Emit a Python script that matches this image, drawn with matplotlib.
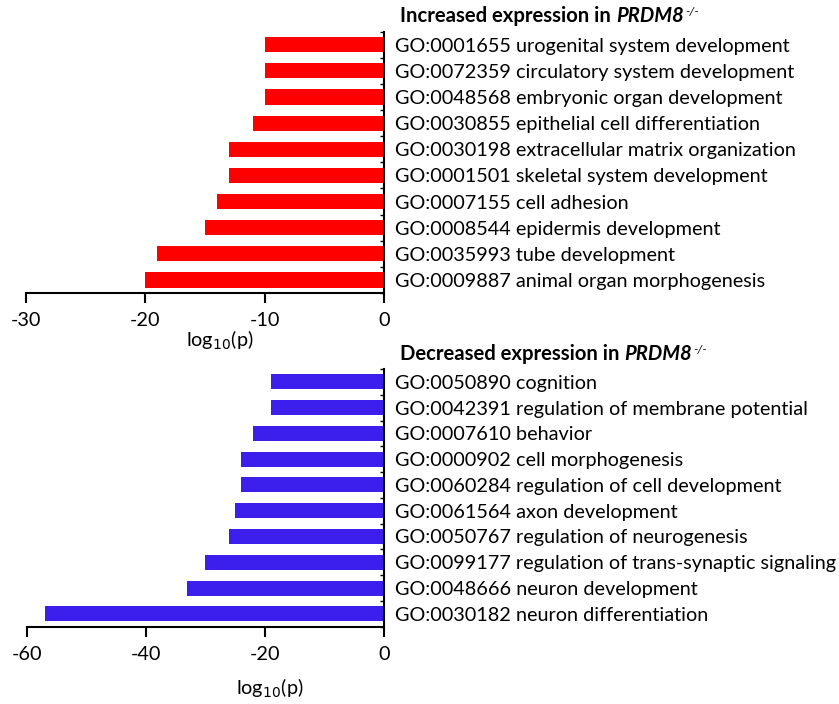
import numpy as np
import matplotlib.pyplot as plt
from matplotlib.ticker import FixedLocator

plt.rcParams['font.family'] = ['Lato', 'DejaVu Sans']

# Increased expression in PRDM8-/-
up_terms = ['GO:0001655 urogenital system development',
            'GO:0072359 circulatory system development',
            'GO:0048568 embryonic organ development',
            'GO:0030855 epithelial cell differentiation',
            'GO:0030198 extracellular matrix organization',
            'GO:0001501 skeletal system development',
            'GO:0007155 cell adhesion',
            'GO:0008544 epidermis development',
            'GO:0035993 tube development',
            'GO:0009887 animal organ morphogenesis']
up_logp = [-10, -10, -10, -11, -13, -13, -14, -15, -19, -20]

# Decreased expression in PRDM8-/-
down_terms = ['GO:0050890 cognition',
              'GO:0042391 regulation of membrane potential',
              'GO:0007610 behavior',
              'GO:0000902 cell morphogenesis',
              'GO:0060284 regulation of cell development',
              'GO:0061564 axon development',
              'GO:0050767 regulation of neurogenesis',
              'GO:0099177 regulation of trans-synaptic signaling',
              'GO:0048666 neuron development',
              'GO:0030182 neuron differentiation']
down_logp = [-19, -19, -22, -24, -24, -25, -26, -30, -33, -57]

up_ticks = [-30, -20, -10, 0]
down_ticks = [-60, -40, -20, 0]

FS = 14.3
TFS = 14.6

fig = plt.figure(figsize=(8.39, 7.04), dpi=100)
ax1 = fig.add_axes([0.031, 0.5838, 0.4267, 0.3712])
ax2 = fig.add_axes([0.0318, 0.1098, 0.4255, 0.3661])


def draw_panel(ax, terms, vals, color, ticks, title, lab_xy, title_y):
    y = np.arange(len(terms))
    ax.barh(y, vals, height=0.58, color=color)
    ax.set_ylim(len(terms) - 0.5, -0.5)
    ax.set_xlim(ticks[0], ticks[-1])
    ax.set_xticks(ticks)
    ax.set_xticklabels([str(t) for t in ticks], fontsize=FS)
    ax.yaxis.tick_right()
    ax.set_yticks(y)
    ax.set_yticklabels(terms, fontsize=FS)
    ax.yaxis.set_minor_locator(FixedLocator(np.arange(len(terms) + 1) - 0.5))
    ax.tick_params(axis='y', which='major', length=0, pad=8)
    ax.tick_params(axis='y', which='minor', direction='in', length=3, width=1)
    ax.tick_params(axis='x', direction='out', length=7, width=1.5, pad=7)
    for s in ['top', 'left']:
        ax.spines[s].set_visible(False)
    for s in ['bottom', 'right']:
        ax.spines[s].set_linewidth(1.5)
    ax.text(lab_xy[0], lab_xy[1], r'log$_{10}$(p)', transform=ax.transAxes,
            ha='center', va='center', fontsize=FS)
    t1 = ax.text(1.045, title_y, title, transform=ax.transAxes, fontsize=TFS,
                 fontweight='bold', ha='left', va='center')
    t2 = ax.annotate('PRDM8', xy=(1, 0), xycoords=t1, fontsize=TFS,
                     fontweight='bold', fontstyle='italic', va='bottom')
    ax.annotate('-/-', xy=(1, 1), xycoords=t2, xytext=(1, -8),
                textcoords='offset points', fontsize=TFS * 0.6,
                fontstyle='italic', va='bottom')


draw_panel(ax1, up_terms, up_logp, '#FF0000', up_ticks,
           'Increased expression in ', (0.542, -0.18), 1.06)
draw_panel(ax2, down_terms, down_logp, '#3C1FEC', down_ticks,
           'Decreased expression in ', (0.68, -0.238), 1.06)

fig.savefig('out.png', dpi=100)
